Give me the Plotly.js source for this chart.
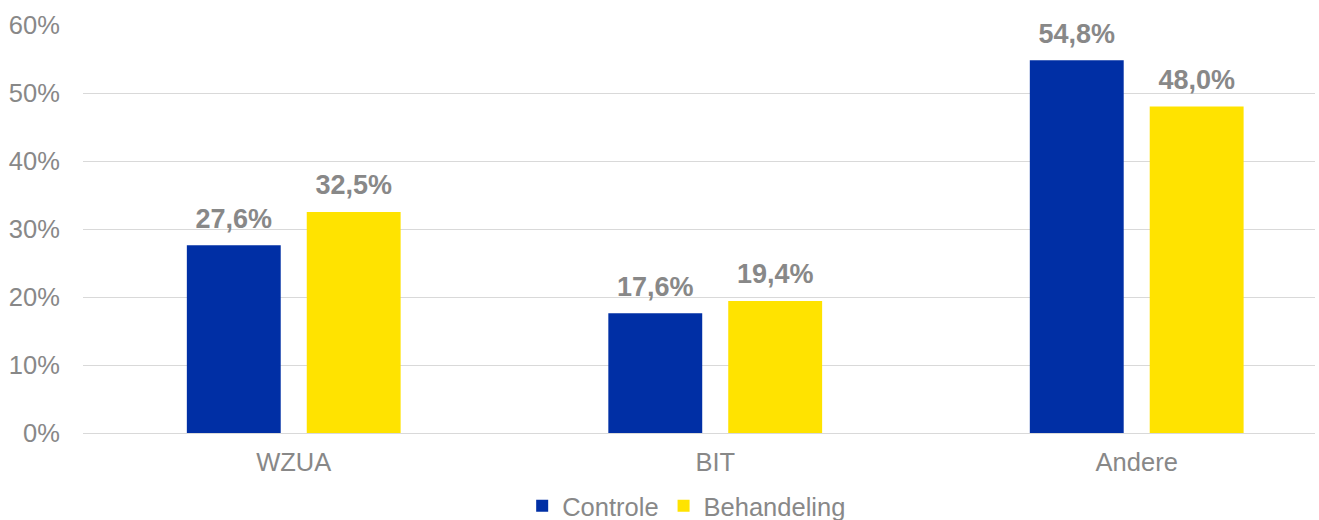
<!DOCTYPE html>
<html>
<head>
<meta charset="utf-8">
<script src="https://cdn.plot.ly/plotly-3.0.1.min.js"></script>
<style>
  html, body { margin: 0; padding: 0; background: #fff; }
  #chart { width: 1319px; height: 520px; }
</style>
</head>
<body>
<div id="chart"></div>
<script>
// categories and series
const categories = [ 'WZUA', 'BIT', 'Andere' ];
const controle = [ 0.276, 0.176, 0.548 ];
const behandeling = [ 0.325, 0.194, 0.480 ];
const seriesNames = [ 'Controle', 'Behandeling' ];
const seriesColors = [ '#002FA5', '#FFE300' ];
const yTicks = [ 0, 0.1, 0.2, 0.3, 0.4, 0.5, 0.6 ];

const grey = '#888888';
const font = 'Liberation Sans, Arial, sans-serif';

function barTrace( name, values, color ) {
    return {
        type: 'bar',
        name: name,
        x: categories,
        y: values,
        marker: { color: color },
        hoverinfo: 'x+y'
    };
}

// value labels as grouped scatter text, so they sit a bit higher above the bars
function labelTrace( values ) {
    return {
        type: 'scatter',
        mode: 'markers+text',
        x: categories,
        y: values,
        showlegend: false,
        cliponaxis: false,
        marker: { size: 16, opacity: 0 },
        texttemplate: '%{y:.1%}',
        textposition: 'top center',
        textfont: { family: font, size: 27, color: grey, weight: 'bold' },
        hoverinfo: 'skip'
    };
}

let data = [
    barTrace( seriesNames[ 0 ], controle, seriesColors[ 0 ] ),
    barTrace( seriesNames[ 1 ], behandeling, seriesColors[ 1 ] ),
    labelTrace( controle ),
    labelTrace( behandeling )
];

let layout = {
    width: 1319,
    height: 520,
    margin: { l: 83, r: 4, t: 25, b: 87 },
    paper_bgcolor: '#ffffff',
    plot_bgcolor: '#ffffff',
    separators: ',.',
    barmode: 'group',
    bargap: 0.431,
    bargroupgap: 0.217,
    scattermode: 'group',
    scattergap: 0.431,
    font: { family: font, color: grey, size: 25.5 },
    xaxis: {
        range: [ -0.5, 2.423 ],
        showline: true,
        linecolor: '#d9d9d9',
        linewidth: 1,
        ticks: '',
        ticklabelstandoff: 6,
        tickfont: { size: 25.5, color: grey },
        fixedrange: true
    },
    yaxis: {
        range: [ 0, 0.6 ],
        tickvals: yTicks,
        tickformat: '.0%',
        gridcolor: '#d9d9d9',
        gridwidth: 1,
        zeroline: false,
        ticks: 'outside',
        ticklen: 17,
        tickcolor: 'rgba(0,0,0,0)',
        tickfont: { size: 25.5, color: grey },
        fixedrange: true
    },
    showlegend: true,
    legend: {
        orientation: 'h',
        yref: 'container',
        x: 0.49,
        xanchor: 'center',
        y: 0.072,
        yanchor: 'top',
        font: { size: 25.5, color: grey },
        itemwidth: 30
    }
};

Plotly.newPlot( 'chart', data, layout, { displayModeBar: false, staticPlot: true } );
</script>
</body>
</html>
